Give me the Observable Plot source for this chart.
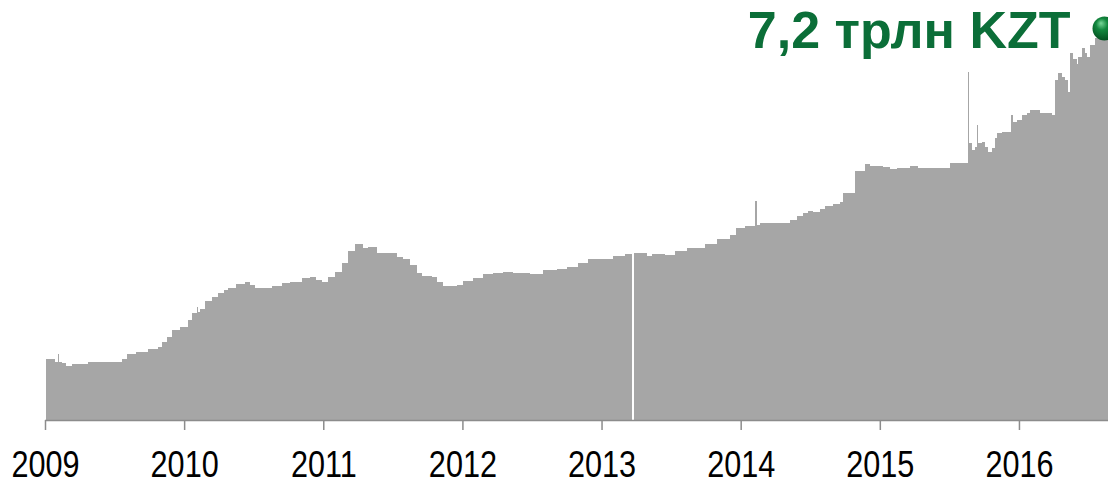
<!DOCTYPE html>
<html>
<head>
<meta charset="utf-8">
<script src="https://cdn.jsdelivr.net/npm/d3@7"></script>
<script src="https://cdn.jsdelivr.net/npm/@observablehq/plot@0.6"></script>
<style>
  html, body { margin: 0; padding: 0; background: #fff; }
  #chart { width: 1108px; height: 485px; overflow: hidden; }
</style>
</head>
<body>
<div id="chart"></div>
<script>
// Start of each step (decimal year)
const periodStart = [
  2009.007, 2009.072, 2009.090, 2009.101, 2009.122, 2009.151, 2009.194, 2009.309,
  2009.553, 2009.589, 2009.654, 2009.740, 2009.812, 2009.841, 2009.877, 2009.913, 2009.970,
  2010.028, 2010.056, 2010.089, 2010.100, 2010.114, 2010.150, 2010.200, 2010.243, 2010.286,
  2010.315, 2010.373, 2010.437, 2010.473, 2010.509, 2010.631, 2010.703, 2010.761, 2010.847,
  2010.905, 2010.948, 2010.991,
  2011.034, 2011.084, 2011.135, 2011.178, 2011.228, 2011.286, 2011.321, 2011.386, 2011.530,
  2011.573, 2011.623, 2011.674, 2011.710, 2011.781, 2011.817, 2011.860, 2011.961,
  2012.004, 2012.076, 2012.148, 2012.220, 2012.292, 2012.364, 2012.486, 2012.579, 2012.680,
  2012.752, 2012.831, 2012.903,
  2013.082, 2013.168, 2013.219, 2013.233, 2013.327, 2013.363, 2013.456, 2013.528, 2013.614,
  2013.743, 2013.830, 2013.923, 2013.966,
  2014.031, 2014.106, 2014.117, 2014.139, 2014.354, 2014.405, 2014.448, 2014.484, 2014.520,
  2014.570, 2014.606, 2014.663, 2014.714, 2014.735, 2014.822, 2014.893, 2014.929,
  2015.023, 2015.073, 2015.123, 2015.217, 2015.274, 2015.504, 2015.634, 2015.641, 2015.662,
  2015.684, 2015.698, 2015.706, 2015.734, 2015.756, 2015.777, 2015.806, 2015.828, 2015.842,
  2015.878, 2015.943, 2015.957, 2015.986,
  2016.022, 2016.058, 2016.079, 2016.151, 2016.187, 2016.237, 2016.259, 2016.280, 2016.309,
  2016.331, 2016.352, 2016.367, 2016.388, 2016.417, 2016.424, 2016.453, 2016.475, 2016.489,
  2016.510, 2016.546
];
const periodEnd = 2016.640;

// Value in trillion KZT (null = missing week)
const valueTrln = [
  1.15, 1.10, 1.25, 1.10, 1.07, 1.02, 1.05, 1.10,
  1.15, 1.25, 1.29, 1.34, 1.38, 1.48, 1.56, 1.70, 1.76,
  1.89, 2.01, 2.14, 2.04, 2.09, 2.25, 2.33, 2.39, 2.45,
  2.50, 2.57, 2.61, 2.55, 2.50, 2.52, 2.58, 2.61, 2.67,
  2.70, 2.64, 2.61,
  2.70, 2.80, 2.96, 3.18, 3.32, 3.24, 3.27, 3.15, 3.08,
  3.03, 2.92, 2.77, 2.72, 2.69, 2.61, 2.53, 2.55,
  2.63, 2.67, 2.75, 2.77, 2.80, 2.78, 2.75, 2.83, 2.84,
  2.89, 2.97, 3.04,
  3.09, 3.13, null, 3.15, 3.10, 3.13, 3.12, 3.18, 3.24,
  3.33, 3.41, 3.49, 3.62,
  3.66, 4.14, 3.68, 3.71, 3.77, 3.85, 3.90, 3.94, 3.93,
  3.98, 4.04, 4.07, 4.12, 4.28, 4.70, 4.83, 4.80,
  4.77, 4.74, 4.75, 4.79, 4.75, 4.84, 6.56, 5.22, 5.09,
  5.16, 5.57, 5.22, 5.24, 5.16, 5.06, 5.13, 5.32, 5.41,
  5.43, 5.75, 5.63, 5.66,
  5.75, 5.80, 5.84, 5.80, 5.79, 5.75, 6.42, 6.54, 6.48,
  6.42, 6.19, 6.92, 6.82, 6.71, 6.85, 7.01, 6.92, 6.85,
  7.08, 7.20
];

const yearTicks = [2009, 2010, 2011, 2012, 2013, 2014, 2015, 2016];
const latestLabel = "7,2 трлн KZT";
const latestValue = 7.2;

const rows = periodStart.map((s, i) => ({
  x1: s,
  x2: i + 1 < periodStart.length ? periodStart[i + 1] : periodEnd,
  y: valueTrln[i]
})).filter(d => d.y != null);

const marker = [{ t: periodEnd, v: latestValue, label: latestLabel }];

const plot = Plot.plot({
  width: 1108,
  height: 485,
  marginLeft: 45,
  marginRight: 0,
  marginTop: 0,
  marginBottom: 65,
  style: { background: "#fff", color: "#000", overflow: "visible" },
  x: { type: "linear", domain: [2009, periodEnd] },
  y: { domain: [0, 420 / 53], axis: null },
  marks: [
    Plot.rectY(rows, { x1: "x1", x2: "x2", y: "y", fill: "#a6a6a6", inset: 0, shapeRendering: "crispEdges" }),
    Plot.ruleY([0], { stroke: "#8c8c8c", strokeWidth: 1.5 }),
    Plot.axisX({
      ticks: yearTicks,
      tickFormat: d => String(d),
      tickSize: 10,
      tickPadding: 21,
      stroke: "#8c8c8c",
      strokeWidth: 1.5,
      fill: "#000",
      fontSize: 36,
      fontFamily: "'Liberation Sans', Arial, sans-serif",
      label: null
    }),
    Plot.text(marker, {
      x: "t", y: "v", text: "label",
      textAnchor: "end", lineAnchor: "middle",
      dx: -38, dy: -7.5,
      fontSize: 52, fontWeight: "bold",
      fontFamily: "'Liberation Sans', Arial, sans-serif",
      fill: "#0b6e38"
    }),
    Plot.dot(marker, {
      x: "t", y: "v", r: 12, dx: -4, dy: -10.5,
      fill: "url(#greenBall)", stroke: "none"
    })
  ]
});

// radial gradient for the glossy green marker
const svg = d3.select(plot);
const defs = svg.insert("defs", ":first-child");
const g = defs.append("radialGradient").attr("id", "greenBall")
  .attr("cx", "45%").attr("cy", "40%").attr("r", "60%").attr("fx", "35%").attr("fy", "28%");
g.append("stop").attr("offset", "0%").attr("stop-color", "#7ad89a");
g.append("stop").attr("offset", "40%").attr("stop-color", "#13883f");
g.append("stop").attr("offset", "100%").attr("stop-color", "#035020");

document.getElementById("chart").appendChild(plot);

// condensed look for the year labels
svg.selectAll('g[aria-label="x-axis tick label"] text').each(function () {
  const len = this.getComputedTextLength();
  this.setAttribute("textLength", (len * 0.85).toFixed(1));
  this.setAttribute("lengthAdjust", "spacingAndGlyphs");
});
</script>
</body>
</html>
